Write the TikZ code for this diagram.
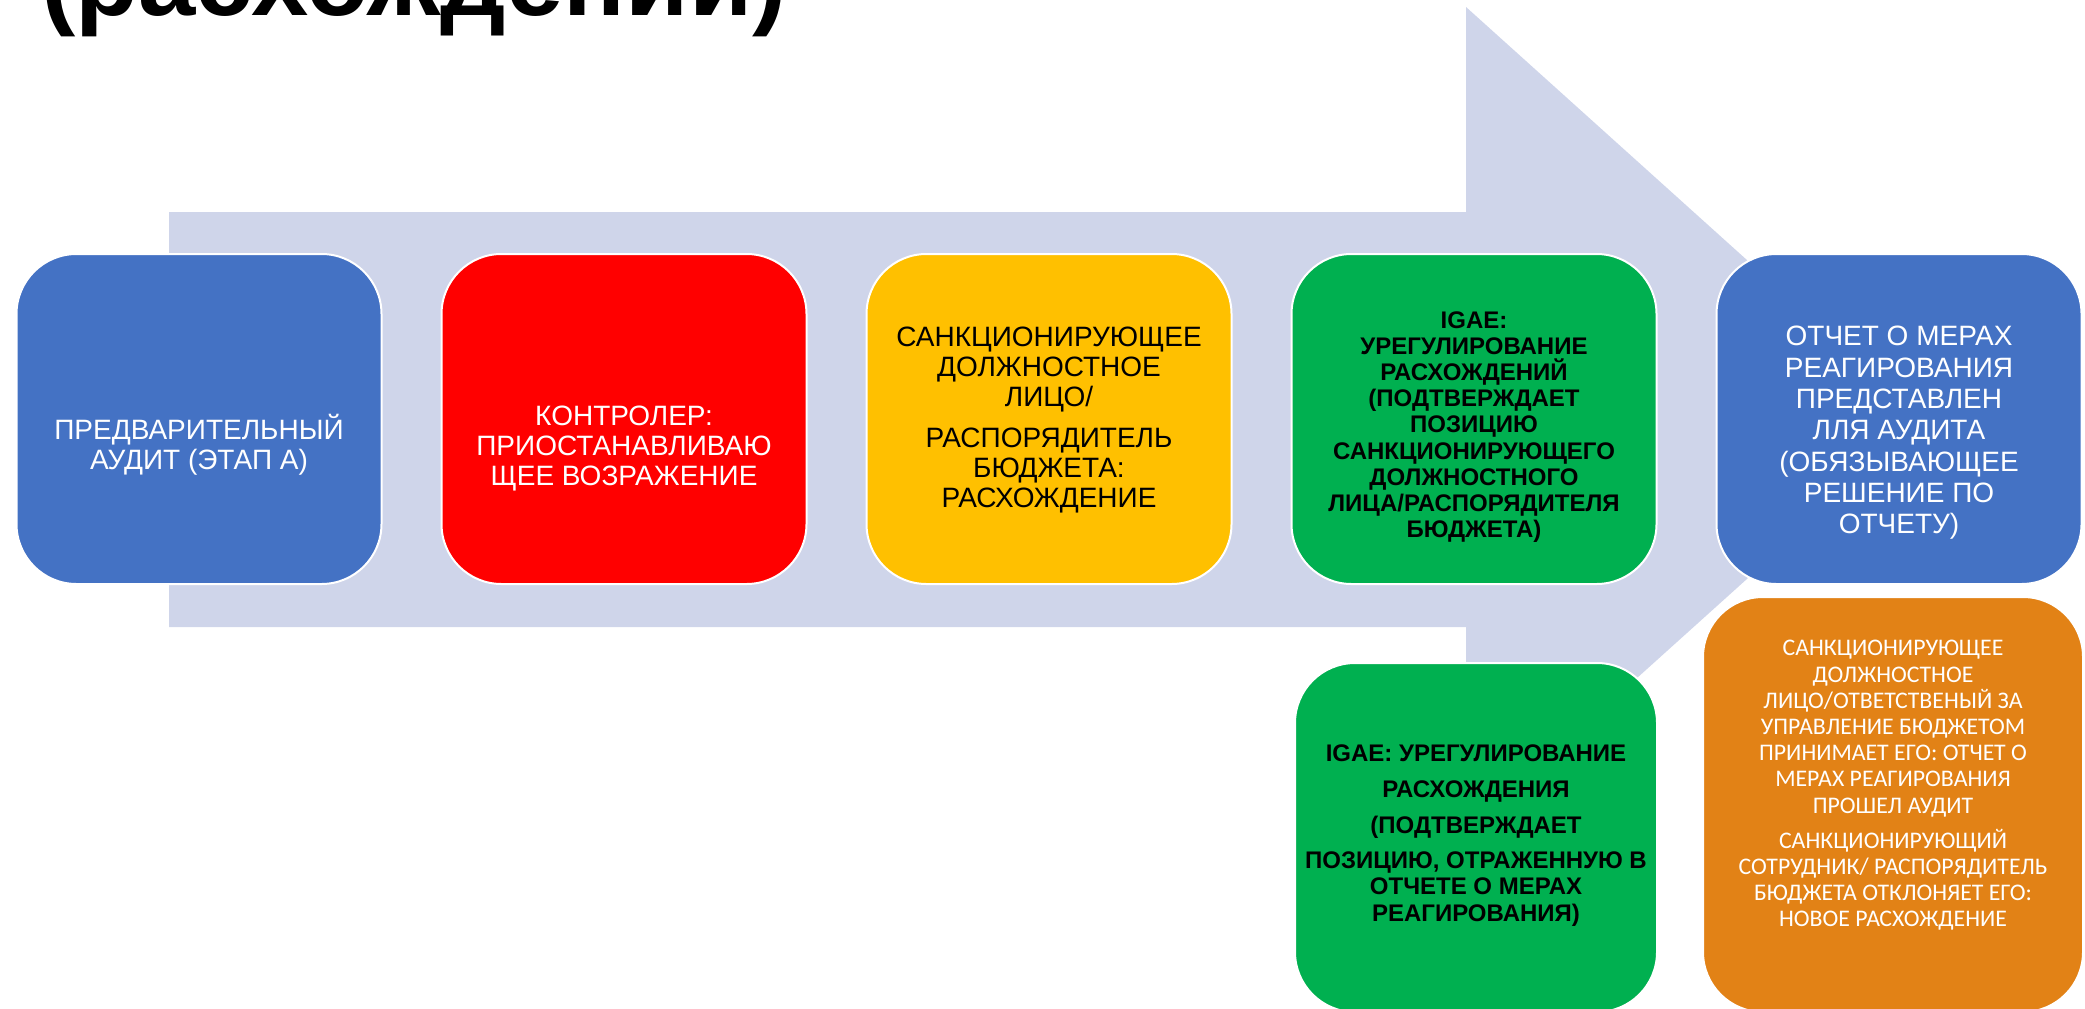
\documentclass[tikz,border=0pt]{standalone}
\usepackage{fontspec}
\setmainfont{Liberation Sans}
\newfontfamily\calibrifont{Carlito}
\usetikzlibrary{positioning}
\definecolor{arrowgrey}{RGB}{207,213,234}
\definecolor{auditblue}{RGB}{68,114,196}
\definecolor{ctrlred}{RGB}{255,0,0}
\definecolor{sanctionyellow}{RGB}{255,192,0}
\definecolor{igaegreen}{RGB}{0,176,80}
\definecolor{decisionorange}{RGB}{226,130,22}

\begin{document}
\begin{tikzpicture}[x=1pt, y=-1pt, % 1 Einheit = 1 Pixel, y nach unten
  stage/.style={draw=white, line width=2pt, rounded corners=60pt, minimum width=365pt, minimum height=330pt, inner sep=0pt},
  txt/.style={align=center, inner sep=0pt, font=\fontsize{28}{30}\selectfont},
  boldtxt/.style={align=center, inner sep=0pt, font=\fontsize{24}{26.2}\selectfont\bfseries}]

\useasboundingbox (0,0) rectangle (2085,1009);

% Titel (oben abgeschnitten)
\node[anchor=base west, inner sep=0pt, font=\fontsize{103}{110}\selectfont\bfseries] (title) at (41,15) {(расхождений)};

% Pfeil im Hintergrund
\fill[arrowgrey] (169,212) -- (1466,212) -- (1466,7) -- (1924,419.5) -- (1466,832) -- (1466,627) -- (169,627) -- cycle;

% Kaesten obere Reihe
\foreach \name/\x/\col in {audit/199/auditblue, control/624/ctrlred, sanction/1049/sanctionyellow, igae/1474/igaegreen, report/1899/auditblue} {
  \node[stage, fill=\col] (\name) at (\x,419) {};
}

% Kaesten unten
\node[stage, fill=igaegreen, minimum width=362pt, minimum height=349pt] (igaetwo) at (1476,837.5) {};
\node[stage, fill=decisionorange, minimum width=380pt, minimum height=415pt] (decision) at (1893,804.5) {};

% Beschriftungen
\node[txt, text=white] (audit-txt) at ([yshift=-26pt]audit.center) {ПРЕДВАРИТЕЛЬНЫЙ\\АУДИТ (ЭТАП А)};
\node[txt, text=white] (control-txt) at ([yshift=-30pt]control.center) {КОНТРОЛЕР:\\ПРИОСТАНАВЛИВАЮ\\ЩЕЕ ВОЗРАЖЕНИЕ};
\node[txt] (sanction-txt) at ([yshift=-1pt]sanction.center) {САНКЦИОНИРУЮЩЕЕ\\ДОЛЖНОСТНОЕ\\ЛИЦО/\\[11pt]РАСПОРЯДИТЕЛЬ\\БЮДЖЕТА:\\РАСХОЖДЕНИЕ};
\node[boldtxt] (igae-txt) at ([yshift=-8pt]igae.center) {IGAE:\\УРЕГУЛИРОВАНИЕ\\РАСХОЖДЕНИЙ\\(ПОДТВЕРЖДАЕТ\\ПОЗИЦИЮ\\САНКЦИОНИРУЮЩЕГО\\ДОЛЖНОСТНОГО\\ЛИЦА/РАСПОРЯДИТЕЛЯ\\БЮДЖЕТА)};
\node[txt, text=white, font=\fontsize{28}{31.3}\selectfont] (report-txt) at ([yshift=-14pt]report.center) {ОТЧЕТ О МЕРАХ\\РЕАГИРОВАНИЯ\\ПРЕДСТАВЛЕН\\ЛЛЯ АУДИТА\\(ОБЯЗЫВАЮЩЕЕ\\РЕШЕНИЕ ПО\\ОТЧЕТУ)};
\node[boldtxt] (igaetwo-txt) at ([yshift=2pt]igaetwo.center) {IGAE: УРЕГУЛИРОВАНИЕ\\[9.5pt]РАСХОЖДЕНИЯ\\[9.5pt](ПОДТВЕРЖДАЕТ\\[9.5pt]ПОЗИЦИЮ, ОТРАЖЕННУЮ В\\ОТЧЕТЕ О МЕРАХ\\РЕАГИРОВАНИЯ)};
\node[txt, text=white, font=\calibrifont\fontsize{23.8}{26.2}\selectfont] (decision-txt) at ([yshift=19pt]decision.center) {САНКЦИОНИРУЮЩЕЕ\\ДОЛЖНОСТНОЕ\\ЛИЦО/ОТВЕТСТВЕНЫЙ ЗА\\УПРАВЛЕНИЕ БЮДЖЕТОМ\\ПРИНИМАЕТ ЕГО: ОТЧЕТ О\\МЕРАХ РЕАГИРОВАНИЯ\\ПРОШЕЛ АУДИТ\\[9pt]САНКЦИОНИРУЮЩИЙ\\СОТРУДНИК/ РАСПОРЯДИТЕЛЬ\\БЮДЖЕТА ОТКЛОНЯЕТ ЕГО:\\НОВОЕ РАСХОЖДЕНИЕ};

\end{tikzpicture}
\end{document}
